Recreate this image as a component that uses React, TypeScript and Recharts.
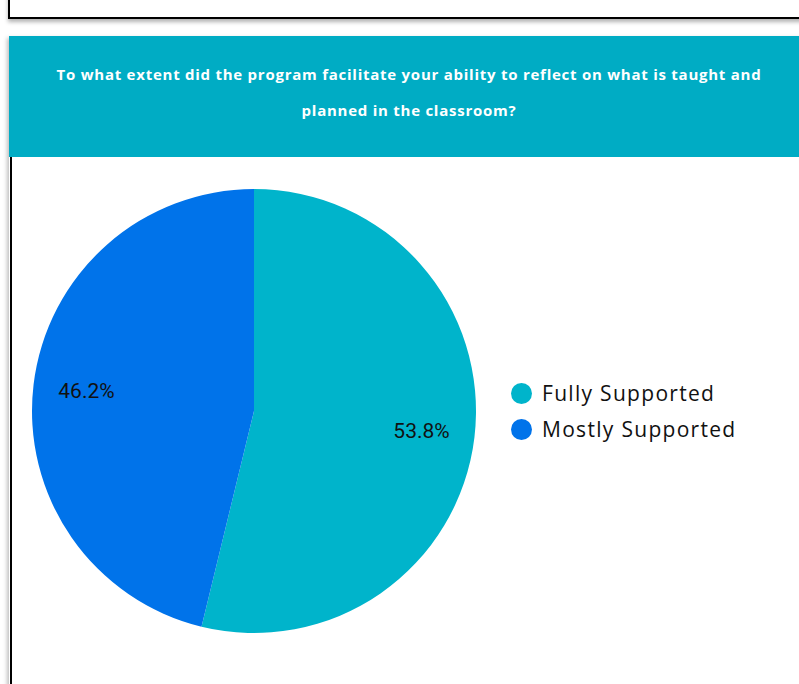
import { PieChart, Pie, Cell, Legend } from 'recharts';

const categories = ['Fully Supported', 'Mostly Supported'];
const values = [53.8, 46.2];
const colors = ['#00B4CB', '#0073EA'];

const titleLines = [
  'To what extent did the program facilitate your ability to reflect on what is taught and',
  'planned in the classroom?',
];

const data = categories.map((name, i) => ({ name, value: values[i] }));

const RADIAN = Math.PI / 180;

// percentage label inside each slice
const renderLabel = (props: any) => {
  const { cx, cy, midAngle, outerRadius, percent } = props;
  const r = outerRadius * 0.76;
  const x = cx + r * Math.cos(-midAngle * RADIAN);
  const y = cy + r * Math.sin(-midAngle * RADIAN);
  return (
    <text
      x={x}
      y={y}
      fill="#111"
      textAnchor="middle"
      dominantBaseline="central"
      fontSize={21}
      fontFamily="Roboto, sans-serif"
    >
      {(percent * 100).toFixed(1)}%
    </text>
  );
};

const renderLegend = (props: any) => {
  const { payload } = props;
  return (
    <div>
      {payload.map((entry: any) => (
        <div key={entry.value} style={{ display: 'flex', alignItems: 'center', height: 36 }}>
          <span
            style={{ width: 21, height: 21, borderRadius: '50%', background: entry.color, display: 'inline-block' }}
          />
          <span
            style={{
              marginLeft: 10, color: '#111', fontSize: 21, letterSpacing: 1.3,
              fontFamily: '"Open Sans", sans-serif',
            }}
          >
            {entry.value}
          </span>
        </div>
      ))}
    </div>
  );
};

const App = () => {
  return (
    <div style={{ position: 'absolute', left: 0, top: 0, width: 799, height: 684, overflow: 'hidden', background: '#fff' }}>
      {/* previous card edge */}
      <div
        style={{
          position: 'absolute', left: 8, top: -40, width: 820, height: 55,
          border: '2px solid #000', boxShadow: '0 3px 4px rgba(0,0,0,0.3)', background: '#fff',
        }}
      />
      {/* chart card */}
      <div
        style={{
          position: 'absolute', left: 9, top: 36, width: 820, height: 700,
          boxShadow: '-2px 2px 4px rgba(0,0,0,0.25)', background: '#fff',
        }}
      >
        <div
          style={{
            height: 121, background: '#00ACC4', color: '#fff', display: 'flex', flexDirection: 'column',
            justifyContent: 'center', paddingBottom: 10, boxSizing: 'border-box',
          }}
        >
          {titleLines.map((line) => (
            <div
              key={line}
              style={{
                width: 800, textAlign: 'center', fontFamily: '"Open Sans", sans-serif', fontWeight: 700,
                fontSize: 15, letterSpacing: 0.75, lineHeight: '36px',
              }}
            >
              {line}
            </div>
          ))}
        </div>
        <div style={{ position: 'absolute', left: 1, top: 121, width: 2, height: 600, background: '#000' }} />
        <div style={{ position: 'absolute', left: 1, top: 121 }}>
          <PieChart width={780} height={527}>
            <Pie
              data={data}
              dataKey="value"
              nameKey="name"
              cx={239}
              cy={249}
              outerRadius={222}
              startAngle={90}
              endAngle={-270}
              stroke="none"
              label={renderLabel}
              labelLine={false}
              isAnimationActive={false}
            >
              {data.map((d, i) => (
                <Cell key={d.name} fill={colors[i]} />
              ))}
            </Pie>
            <Legend
              layout="vertical"
              content={renderLegend}
              wrapperStyle={{ left: 501, top: 218, width: 280 }}
            />
          </PieChart>
        </div>
      </div>
    </div>
  );
};

export default App;
